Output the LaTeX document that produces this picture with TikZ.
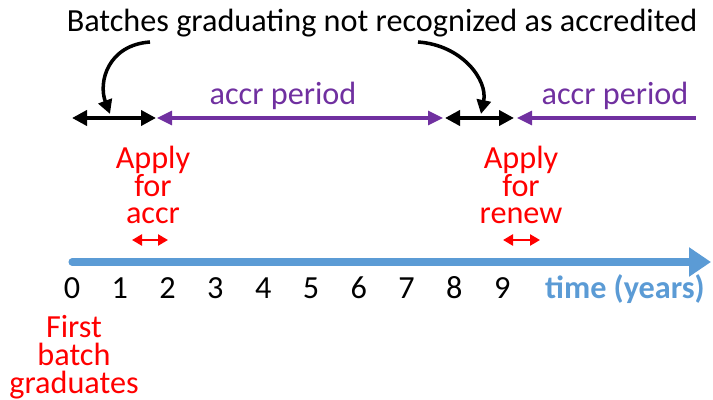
\documentclass[tikz,border=0pt]{standalone}
\usepackage{fontspec}
\setmainfont{Carlito}
\usetikzlibrary{arrows.meta}
\definecolor{timeblue}{RGB}{91,155,213}
\definecolor{accrpurple}{RGB}{112,48,160}
\definecolor{applyred}{RGB}{255,0,0}

\begin{document}
\begin{tikzpicture}[x=0.03cm,y=-0.03cm,
    txt/.style={font=\fontsize{27.5}{23.8}\selectfont, inner sep=0pt, align=center},
    blacktip/.style={-{Triangle[length=0.42cm,width=0.42cm]}},
    blackboth/.style={{Triangle[length=0.45cm,width=0.45cm]}-{Triangle[length=0.45cm,width=0.45cm]}, line width=3.4pt},
    purplebar/.style={accrpurple, line width=2.6pt}]
        \useasboundingbox (0,0) rectangle (713,400);

        % Title and curved arrows
        \node[txt, anchor=base] (title) at (382,32) {Batches graduating not recognized as accredited};
        \coordinate (c1s) at (150,42);
        \coordinate (c1e) at (110,114);
        \coordinate (c2s) at (418,42);
        \coordinate (c2e) at (481,114);
        \draw[blacktip, line width=3pt] (c1s) .. controls (108,45) and (98,82) .. (c1e);
        \draw[blacktip, line width=3pt] (c2s) .. controls (462,45) and (488,80) .. (c2e);

        % Accreditation periods
        \coordinate (b1l) at (72,118);
        \coordinate (b1r) at (156,118);
        \coordinate (p1l) at (157,118);
        \coordinate (p1r) at (443,118);
        \coordinate (b2l) at (445,118);
        \coordinate (b2r) at (514,118);
        \coordinate (p2l) at (517,118);
        \coordinate (p2r) at (696,118);
        \draw[blackboth] (b1l) -- (b1r);
        \draw[blackboth] (b2l) -- (b2r);
        \draw[purplebar, {Triangle[length=0.45cm,width=0.42cm]}-{Triangle[length=0.45cm,width=0.42cm]}] (p1l) -- (p1r);
        \draw[purplebar, {Triangle[length=0.45cm,width=0.42cm]}-] (p2l) -- (p2r);
        \node[txt, anchor=base, text=accrpurple] (per1) at (283,105) {accr period};
        \node[txt, anchor=base, text=accrpurple] (per2) at (615,105) {accr period};

        % Applications
        \node[txt, text=applyred] (app1) at (153,185) {Apply\\for\\accr};
        \node[txt, text=applyred] (app2) at (521,185) {Apply\\for\\renew};
        \coordinate (r1l) at (132,240);
        \coordinate (r1r) at (168,240);
        \coordinate (r2l) at (503,240);
        \coordinate (r2r) at (540,240);
        \draw[applyred, line width=2.4pt, {Triangle[length=0.3cm,width=0.33cm]}-{Triangle[length=0.3cm,width=0.33cm]}] (r1l) -- (r1r);
        \draw[applyred, line width=2.4pt, {Triangle[length=0.3cm,width=0.33cm]}-{Triangle[length=0.3cm,width=0.33cm]}] (r2l) -- (r2r);

        % Time axis
        \coordinate (t0) at (72,262);
        \coordinate (tend) at (711,262);
        \draw[timeblue, line width=6pt, line cap=round, -{Triangle[length=0.66cm,width=0.84cm]}] (t0) -- (tend);
        \node[txt, anchor=base] (n0) at (72,298) {0};
        \node[txt, anchor=base] (n1) at (119.8,298) {1};
        \node[txt, anchor=base] (n2) at (167.6,298) {2};
        \node[txt, anchor=base] (n3) at (215.4,298) {3};
        \node[txt, anchor=base] (n4) at (263.2,298) {4};
        \node[txt, anchor=base] (n5) at (311,298) {5};
        \node[txt, anchor=base] (n6) at (358.8,298) {6};
        \node[txt, anchor=base] (n7) at (406.6,298) {7};
        \node[txt, anchor=base] (n8) at (454.4,298) {8};
        \node[txt, anchor=base] (n9) at (502.2,298) {9};
        \node[txt, anchor=base, text=timeblue, font=\fontsize{27.5}{23.8}\selectfont\bfseries] (tlbl) at (625,298) {time (years)};

        % First batch
        \node[txt, text=applyred] (first) at (74,357) {First\\batch\\graduates};
    \end{tikzpicture}
\end{document}
